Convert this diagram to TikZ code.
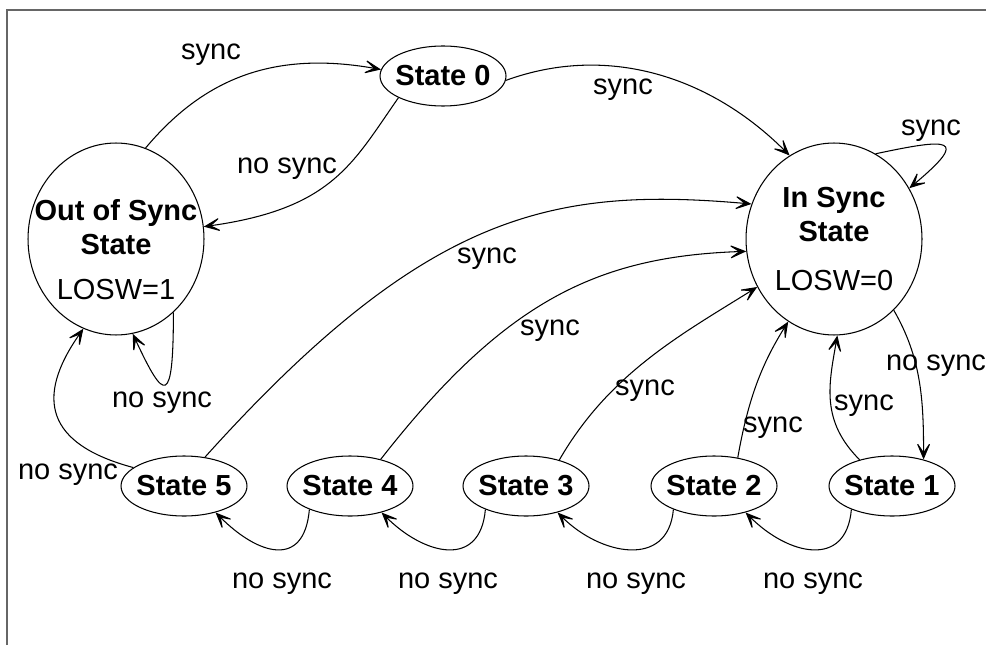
\documentclass[tikz,border=0pt]{standalone}
\usepackage{fontspec}
\setmainfont{Liberation Sans}
\usetikzlibrary{shapes.geometric,arrows.meta}

\begin{document}
\begin{tikzpicture}[x=0.02cm,y=0.02cm]
	\tikzset{every node/.style={font=\fontsize{16.5}{19.5}\selectfont}}
	\tikzset{statenode/.style={ellipse,draw,line width=0.6pt,minimum width=2.52cm,minimum height=1.2cm,inner xsep=-4pt,font=\fontsize{16.5}{19.5}\selectfont\bfseries}}
	\tikzset{bigstate/.style={ellipse,draw,line width=0.6pt,minimum width=3.52cm,minimum height=3.84cm,inner xsep=-0.5cm,align=center}}
	\tikzset{arr/.style={line width=0.6pt,-{Stealth[length=0.4cm,width=0.34cm,inset=0.25cm]}}}
	\tikzset{lbl/.style={inner sep=0pt}}
	\useasboundingbox (0,0) rectangle (986,-645);
	\draw[black!60,line width=1pt] (7,-645) -- (7,-10) -- (986,-10);

	\node[bigstate] (os) at (116,-239) {\rule{0pt}{24pt}\textbf{Out of Sync}\\\textbf{State}\\[6pt]LOSW=1};
	\node[bigstate] (is) at (834,-239) {\textbf{In Sync}\\\textbf{State}\\[8pt]LOSW=0};
	\node[statenode] (s0) at (443,-76) {State 0};
	\node[statenode] (s5) at (184,-486) {State 5};
	\node[statenode] (s4) at (350,-486) {State 4};
	\node[statenode] (s3) at (526,-486) {State 3};
	\node[statenode] (s2) at (714,-486) {State 2};
	\node[statenode] (s1) at (892,-486) {State 1};

	\draw[arr] (os.72) .. controls +(50:90) and +(170:110) .. (s0.174);
	\draw[arr] (s0.206) .. controls +(235:80) and +(8:130) .. (os.8);
	\draw[arr] (s0.356) .. controls +(20:110) and +(135:110) .. (is.118);
	\draw[arr] (is.64) .. controls +(12:75) and +(40:80) .. (is.34);
	\draw[arr] (s5.54) .. controls +(48:330) and +(175:200) .. (is.157);
	\draw[arr] (s4.41) .. controls +(52:200) and +(182:150) .. (is.188);
	\draw[arr] (s3.38) .. controls +(60:100) and +(212:90) .. (is.212);
	\draw[arr] (s2.50) .. controls +(80:60) and +(238:50) .. (is.241);
	\draw[arr] (s1.141) .. controls +(135:55) and +(260:50) .. (is.272);
	\draw[arr] (is.310) .. controls +(-60:55) and +(90:60) .. (s1.40);
	\draw[arr] (os.308) .. controls +(-90:95) and +(-65:75) .. (os.280);
	\draw[arr] (s5.160) .. controls +(165:90) and +(235:85) .. (os.250);
	\foreach \a/\b in {s1/s2,s2/s3,s3/s4,s4/s5}
		\draw[arr] (\a.210) .. controls +(-95:60) and +(-45:60) .. (\b.320);

	\node[lbl] (l1) at (211,-55) {sync};
	\node[lbl] (l2) at (287,-169) {no sync};
	\node[lbl] (l3) at (623,-90) {sync};
	\node[lbl] (l4) at (931,-131) {sync};
	\node[lbl] (l5) at (487,-259) {sync};
	\node[lbl] (l6) at (550,-331) {sync};
	\node[lbl] (l7) at (645,-391) {sync};
	\node[lbl] (l8) at (773,-428) {sync};
	\node[lbl] (l9) at (864,-406) {sync};
	\node[lbl] (l10) at (936,-366) {no sync};
	\node[lbl] (l11) at (162,-403) {no sync};
	\node[lbl] (l12) at (68,-475) {no sync};
	\foreach \x in {282,448,636,813}
		\node[lbl] (n\x) at (\x,-584) {no sync};
\end{tikzpicture}
\end{document}
